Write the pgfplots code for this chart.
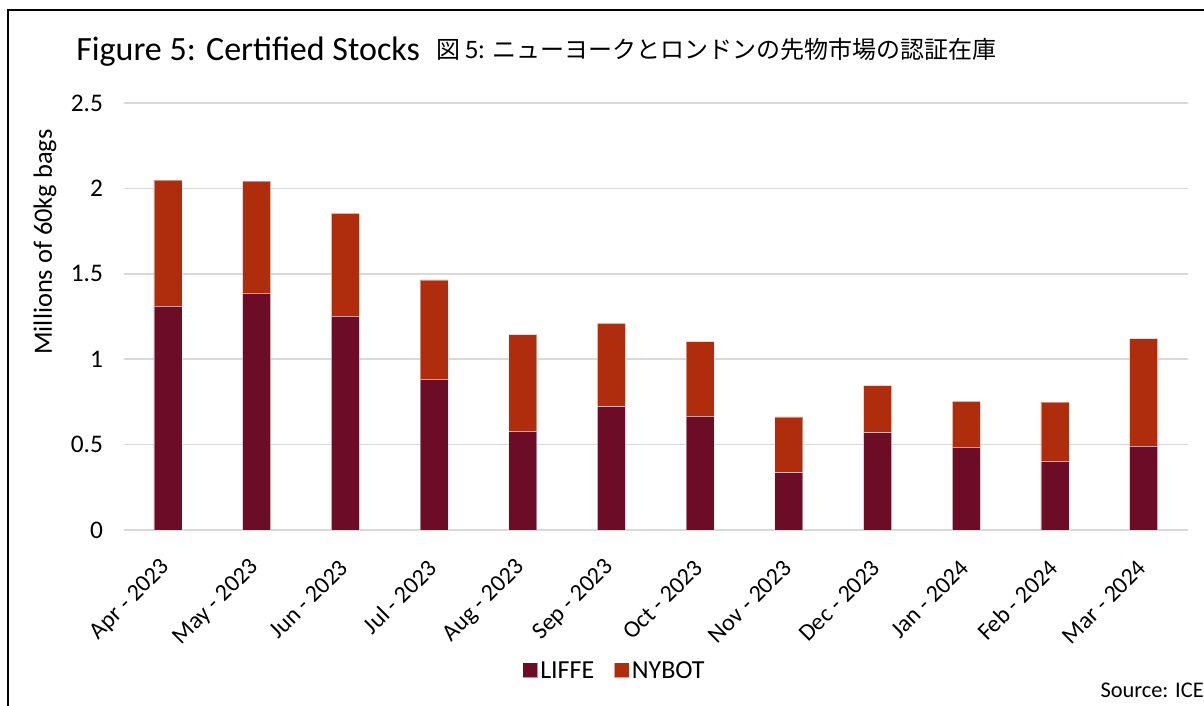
\documentclass[border=0pt]{standalone}
\usepackage{fontspec}
\setmainfont{Carlito}
\newfontfamily\jp{Noto Sans CJK JP}
\usepackage{pgfplots}
\pgfplotsset{compat=1.18}
\definecolor{liffe}{HTML}{6D0C26}
\definecolor{nybot}{HTML}{AF2D0C}
\definecolor{gridc}{HTML}{D9D9D9}
\begin{document}
\begin{tikzpicture}
\useasboundingbox (0,0) rectangle (903pt,-529.5pt);
\draw[line width=1.5pt] (6pt,-529.5pt) -- (6pt,-7.5pt) -- (903pt,-7.5pt);
\node[anchor=base west, font=\fontsize{25.5}{30}\selectfont, inner sep=0] at (57pt,-45.75pt) {Figure 5: Certified Stocks};
\node[anchor=base west, font=\jp\fontsize{18}{22}\selectfont, inner sep=0] at (327pt,-44.25pt) {図 5: ニューヨークとロンドンの先物市場の認証在庫};
\node[rotate=90, font=\fontsize{19.8}{24}\selectfont, inner sep=0] at (33.75pt,-181.5pt) {Millions of 60kg bags};
\node[anchor=base east, font=\fontsize{16.8}{20}\selectfont, inner sep=0] at (903pt,-522.75pt) {Source: ICE};
\begin{axis}[
  at={(92.7pt,-397.5pt)}, anchor=south west,
  scale only axis, width=798.3pt, height=320.25pt,
  ybar stacked, bar width=21pt,
  xmin=-0.5, xmax=11.5, ymin=0, ymax=2.5,
  xtick={0,...,11},
  xticklabels={Apr - 2023,May - 2023,Jun - 2023,Jul - 2023,Aug - 2023,Sep - 2023,Oct - 2023,Nov - 2023,Dec - 2023,Jan - 2024,Feb - 2024,Mar - 2024},
  ytick={0,0.5,1,1.5,2,2.5},
  yticklabels={0,0.5,1,1.5,2,2.5},
  axis line style={draw=none},
  ymajorgrids, grid style={gridc, line width=1.2pt},
  major tick length=0pt,
  yticklabel style={font=\fontsize{19}{22}\selectfont, xshift=-12pt},
  xticklabel style={font=\fontsize{18}{22}\selectfont, rotate=45, anchor=east, xshift=-15.3pt, yshift=-17.2pt},
  legend style={at={(0.4617,-0.33)}, anchor=center, draw=none, fill=none,
    legend columns=2, font=\fontsize{19.5}{22}\selectfont,
    /tikz/every even column/.append style={column sep=13pt}},
  clip=false,
]
\addplot[fill=liffe, draw=white, draw opacity=0.45, line width=0.6pt,
  legend image code/.code={\fill[liffe] (0pt,-4.5pt) rectangle (10.5pt,6pt);}]
  coordinates {(0,1.310) (1,1.386) (2,1.251) (3,0.882) (4,0.576) (5,0.722) (6,0.666) (7,0.336) (8,0.570) (9,0.484) (10,0.400) (11,0.490)};
\addlegendentry{LIFFE}
\addplot[fill=nybot, draw=white, draw opacity=0.45, line width=0.6pt,
  legend image code/.code={\fill[nybot] (0pt,-4.5pt) rectangle (10.5pt,6pt);}]
  coordinates {(0,0.738) (1,0.656) (2,0.603) (3,0.582) (4,0.568) (5,0.488) (6,0.437) (7,0.326) (8,0.275) (9,0.269) (10,0.349) (11,0.630)};
\addlegendentry{NYBOT}
\end{axis}
\end{tikzpicture}
\end{document}
